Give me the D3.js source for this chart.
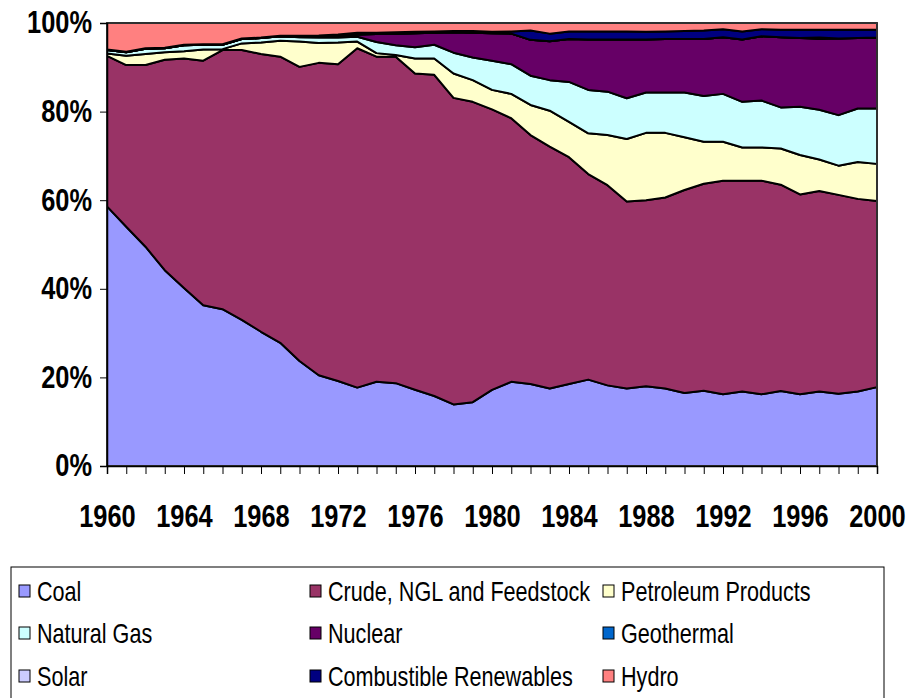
<!DOCTYPE html>
<html lang="en">

<head>
    <meta charset="UTF-8">
    <title>Energy supply shares 1960-2000</title>
    <script src="https://cdn.jsdelivr.net/npm/d3@7"></script>
    <style>
        body { margin: 0; background: #fff; }
        text { font-family: "Liberation Sans", Arial, sans-serif; }
    </style>
</head>

<body>

    <script>
    var years = d3.range(1960, 2001);
    var xTickLabels = [1960, 1964, 1968, 1972, 1976, 1980, 1984, 1988, 1992, 1996, 2000];
    var yTickLabels = [0, 0.2, 0.4, 0.6, 0.8, 1];

    // shares in percent
    var coal = [58.6, 54.0, 49.5, 44.2, 40.2, 36.3, 35.4, 33.0, 30.3, 27.8,
        23.7, 20.5, 19.2, 17.7, 19.0, 18.7, 17.2, 15.8, 13.9, 14.4,
        17.2, 19.0, 18.5, 17.5, 18.5, 19.5, 18.2, 17.5, 18.0, 17.5,
        16.5, 17.0, 16.2, 16.8, 16.2, 16.8, 16.2, 16.8, 16.3, 16.8, 17.8];
    var crude = [34.0, 36.5, 41.0, 47.5, 51.8, 55.2, 58.5, 60.9, 62.7, 64.6,
        66.4, 70.5, 71.5, 76.6, 73.4, 73.7, 71.4, 72.5, 69.2, 67.8,
        63.3, 59.5, 56.2, 54.6, 51.2, 46.4, 45.2, 42.2, 42.0, 43.1,
        45.8, 46.7, 48.2, 47.6, 48.2, 46.2, 45.1, 45.3, 44.9, 43.5, 42.0];
    var petroleum = [0.5, 2.1, 2.5, 1.7, 1.6, 2.5, 0.2, 1.5, 2.6, 3.6,
        5.7, 4.5, 4.9, 1.5, 0.8, 0.4, 3.4, 3.7, 5.5, 4.9,
        4.4, 5.5, 6.8, 8.1, 8.0, 9.2, 11.3, 14.1, 15.2, 14.6,
        11.9, 9.5, 8.8, 7.5, 7.5, 8.1, 8.9, 7.1, 6.6, 8.3, 8.4];
    var naturalGas = [0.8, 0.8, 1.2, 0.9, 1.4, 1.1, 1.0, 1.0, 1.0, 1.0,
        1.0, 1.2, 1.1, 1.1, 2.5, 2.2, 2.5, 3.1, 4.7, 5.1,
        6.6, 6.7, 6.6, 6.9, 9.0, 9.8, 9.8, 9.2, 9.1, 9.1,
        10.1, 10.3, 10.8, 10.3, 10.6, 9.2, 10.9, 11.2, 11.4, 12.1, 12.5];
    var nuclear = [0, 0, 0, 0, 0, 0, 0, 0, 0, 0,
        0.1, 0.2, 0.3, 0.5, 1.8, 2.6, 3.2, 2.7, 4.6, 5.6,
        6.2, 6.9, 8.1, 8.8, 9.7, 11.4, 11.8, 13.3, 12.0, 12.1,
        12.1, 12.9, 12.8, 14.1, 14.5, 15.7, 15.5, 16.0, 17.3, 15.9, 16.0];
    var geothermal = [0, 0, 0, 0, 0, 0, 0, 0, 0, 0,
        0, 0, 0, 0, 0, 0, 0, 0, 0, 0,
        0, 0, 0, 0, 0, 0, 0, 0, 0, 0,
        0, 0, 0, 0, 0, 0, 0, 0.3, 0, 0, 0];
    var solar = [0, 0, 0, 0, 0, 0, 0, 0, 0, 0,
        0, 0, 0, 0, 0, 0, 0, 0, 0, 0,
        0, 0, 0, 0, 0, 0, 0, 0, 0, 0,
        0, 0, 0, 0, 0, 0, 0, 0, 0, 0, 0];
    var renewables = [0.1, 0.1, 0.1, 0.1, 0.1, 0.1, 0.1, 0.1, 0.1, 0.1,
        0.2, 0.3, 0.4, 0.4, 0.3, 0.3, 0.3, 0.3, 0.3, 0.4,
        0.3, 0.5, 2.1, 1.7, 1.7, 1.8, 1.8, 1.8, 1.7, 1.7,
        1.8, 1.9, 1.8, 1.8, 1.6, 1.7, 1.9, 1.8, 2.0, 1.9, 1.8];
    var hydro = [6.0, 6.5, 5.7, 5.6, 4.9, 4.8, 4.8, 3.5, 3.3, 2.9,
        2.9, 2.8, 2.6, 2.2, 2.2, 2.1, 2.0, 1.9, 1.8, 1.8,
        2.0, 1.9, 1.7, 2.4, 1.9, 1.9, 1.9, 1.9, 2.0, 1.9,
        1.8, 1.7, 1.4, 1.9, 1.4, 1.5, 1.5, 1.5, 1.5, 1.5, 1.5];

    var seriesNames = ["Coal", "Crude, NGL and Feedstock", "Petroleum Products", "Natural Gas",
        "Nuclear", "Geothermal", "Solar", "Combustible Renewables", "Hydro"];
    var seriesValues = [coal, crude, petroleum, naturalGas, nuclear, geothermal, solar, renewables, hydro];
    var colors = ["#9999ff", "#993366", "#ffffcc", "#ccffff", "#660066", "#0066cc", "#ccccff", "#000080", "#ff8080"];

    var rows = years.map(function(y, i) {
        var r = { year: y };
        seriesNames.forEach(function(name, k) { r[name] = seriesValues[k][i]; });
        return r;
    });

    var width = 915, height = 698;
    var plotLeft = 107, plotRight = 877, plotTop = 23, plotBottom = 466;
    // the original font is a condensed face, squeeze Liberation Sans to match
    var squeeze = 0.82;

    var svg = d3.select("body").append("svg").attr("width", width).attr("height", height);

    var x = d3.scaleLinear().domain([1960, 2000]).range([plotLeft, plotRight]);
    var y = d3.scaleLinear().domain([0, 1]).range([plotBottom, plotTop]);

    var stack = d3.stack().keys(seriesNames).offset(d3.stackOffsetExpand);
    var layers = stack(rows);

    var area = d3.area()
        .x(function(d) { return x(d.data.year); })
        .y0(function(d) { return y(d[0]); })
        .y1(function(d) { return y(d[1]); });

    svg.append("g").selectAll("path")
        .data(layers)
        .enter()
        .append("path")
        .attr("d", area)
        .attr("fill", function(d, i) { return colors[i]; })
        .attr("stroke", "#000")
        .attr("stroke-width", 2)
        .attr("stroke-linejoin", "round");

    // plot border
    svg.append("rect")
        .attr("x", plotLeft).attr("y", plotTop)
        .attr("width", plotRight - plotLeft).attr("height", plotBottom - plotTop)
        .attr("fill", "none")
        .attr("stroke", "#404040")
        .attr("stroke-width", 1.5);

    var yAxis = svg.append("g")
        .attr("transform", "translate(" + plotLeft + ",0)")
        .call(d3.axisLeft(y).tickValues(yTickLabels).tickSize(7).tickFormat(d3.format(".0%")));
    yAxis.selectAll("text")
        .attr("x", -15 / squeeze)
        .attr("transform", "scale(" + squeeze + ",1)")
        .attr("font-size", 31).attr("font-weight", "bold").attr("fill", "#000");

    var xAxis = svg.append("g")
        .attr("transform", "translate(0," + plotBottom + ")")
        .call(d3.axisBottom(x).tickValues(years).tickSize(8)
            .tickFormat(function(d) { return xTickLabels.indexOf(d) >= 0 ? d : ""; }));
    xAxis.selectAll("text")
        .attr("y", 61).attr("dy", 0)
        .attr("transform", "scale(" + squeeze + ",1)")
        .attr("font-size", 31).attr("font-weight", "bold").attr("fill", "#000");

    svg.selectAll(".domain").attr("stroke", "#000").attr("stroke-width", 1.5);
    svg.selectAll(".tick line").attr("stroke", "#000");

    // legend
    var legend = svg.append("g");
    legend.append("rect")
        .attr("x", 11).attr("y", 567)
        .attr("width", 873).attr("height", 140)
        .attr("fill", "#fff")
        .attr("stroke", "#000")
        .attr("stroke-width", 1);

    var colX = [19, 310, 603];
    var rowY = [591, 633, 676];
    var items = legend.selectAll("g.item")
        .data(seriesNames)
        .enter()
        .append("g")
        .attr("class", "item")
        .attr("transform", function(d, i) {
            return "translate(" + colX[i % 3] + "," + rowY[Math.floor(i / 3)] + ")";
        });
    items.append("rect")
        .attr("x", 0).attr("y", -6)
        .attr("width", 11).attr("height", 12)
        .attr("fill", function(d, i) { return colors[i]; })
        .attr("stroke", "#000")
        .attr("stroke-width", 1);
    items.append("text")
        .attr("transform", "translate(18,10) scale(0.8,1)")
        .attr("font-size", 27)
        .text(function(d) { return d; });
    </script>

</body>

</html>
